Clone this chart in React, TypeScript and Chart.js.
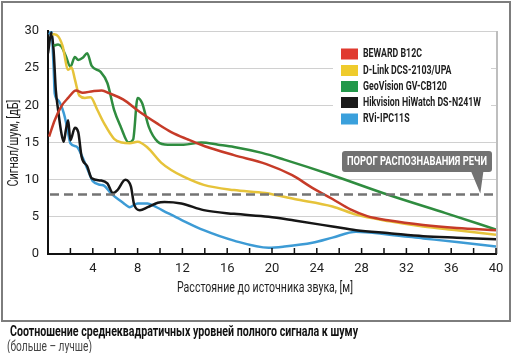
import React, { useEffect, useRef } from "react";
import { Chart, registerables } from "chart.js";
Chart.register(...registerables);

const FONT = "Roboto, 'Liberation Sans', 'DejaVu Sans', sans-serif";

// ---- data ----
const seriesNames = [
  "BEWARD B12C",
  "D-Link DCS-2103/UPA",
  "GeoVision GV-CB120",
  "Hikvision HiWatch DS-N241W",
  "RVi-IPC11S",
];
const lineColors = ["#c63b28", "#e6c33a", "#2f8c3f", "#161616", "#3d9bd5"];
const swatchColors = ["#e03a2f", "#efcb2c", "#22984a", "#1a1a1a", "#3aa0dc"];

const bewardX = [0.1, 0.6, 1.2, 1.8, 2.5, 3.1, 4.0, 4.8, 5.5, 6.7, 8.2, 9.7, 11.0, 12.5, 14.0, 16.6, 19.5, 21.8, 23.6, 25.4, 27.0, 28.5, 30.5, 33.5, 36.5, 40];
const bewardY = [15.8, 18.0, 19.9, 21.0, 22.0, 21.7, 21.9, 22.0, 21.6, 20.8, 19.1, 17.6, 16.4, 15.4, 14.5, 13.3, 12.1, 10.6, 8.9, 7.4, 6.0, 5.1, 4.5, 3.9, 3.5, 3.2];

const dlinkX = [0.4, 0.9, 1.3, 1.8, 2.1, 2.4, 2.8, 3.3, 3.8, 4.4, 5.0, 5.9, 6.6, 7.3, 8.0, 8.9, 10.1, 11.0, 12.1, 13.9, 16.6, 19.4, 22.0, 25.4, 27.5, 30.5, 33.5, 36.5, 40];
const dlinkY = [29.6, 29.3, 28.0, 24.8, 25.1, 23.5, 21.3, 21.0, 21.1, 19.4, 17.6, 15.5, 15.0, 14.9, 15.1, 14.3, 12.3, 11.3, 10.4, 9.3, 8.6, 8.2, 7.4, 6.4, 5.3, 4.4, 3.7, 3.2, 2.6];

const geoX = [0.5, 0.9, 1.2, 1.6, 2.0, 2.4, 2.7, 3.1, 3.5, 3.9, 4.7, 5.3, 5.9, 6.5, 7.2, 7.6, 8.0, 8.4, 9.0, 9.8, 10.7, 12.1, 13.7, 15.2, 16.6, 19.1, 21.1, 25.0, 30.5, 35.5, 40];
const geoY = [28.0, 28.2, 27.9, 26.6, 25.2, 26.5, 26.1, 26.4, 27.0, 25.3, 24.5, 23.0, 19.4, 17.1, 15.0, 15.4, 21.0, 20.3, 17.1, 15.1, 14.7, 14.7, 15.0, 14.7, 14.4, 13.6, 12.7, 10.8, 7.9, 5.5, 3.3];

const hikX = [0.0, 0.3, 0.5, 0.7, 0.9, 1.2, 1.4, 1.6, 1.8, 2.0, 2.4, 2.7, 3.0, 3.5, 3.9, 4.7, 5.3, 5.8, 6.2, 6.9, 7.4, 7.7, 8.2, 8.9, 9.8, 10.4, 11.9, 13.9, 16.6, 19.7, 22.0, 25.4, 27.5, 30.5, 33.5, 36.5, 40];
const hikY = [27.0, 29.8, 27.4, 22.0, 19.4, 16.2, 15.1, 16.7, 18.0, 15.3, 17.0, 16.4, 13.1, 11.8, 10.2, 9.9, 9.5, 8.2, 8.6, 10.0, 9.1, 6.6, 5.9, 6.3, 6.9, 7.0, 6.8, 5.9, 5.4, 5.0, 4.5, 3.7, 3.2, 2.8, 2.4, 2.2, 2.0];

const rviX = [0.1, 0.3, 0.5, 0.6, 0.9, 1.4, 1.7, 2.0, 2.6, 2.9, 3.5, 3.8, 4.0, 4.7, 5.0, 5.6, 6.7, 7.3, 8.0, 8.9, 9.4, 10.7, 11.9, 13.9, 16.6, 19.7, 21.1, 23.6, 25.4, 27.5, 30.5, 33.5, 36.5, 40];
const rviY = [29.5, 30.0, 25.2, 21.6, 20.7, 19.0, 17.1, 14.9, 14.4, 13.6, 11.5, 10.4, 9.8, 9.3, 9.2, 8.2, 6.9, 6.3, 6.8, 6.8, 6.5, 5.5, 4.6, 3.2, 1.8, 0.85, 1.0, 1.5, 2.2, 3.0, 2.6, 2.1, 1.6, 1.0];

const seriesX = [bewardX, dlinkX, geoX, hikX, rviX];
const seriesY = [bewardY, dlinkY, geoY, hikY, rviY];

const xLabelValues = [4, 8, 12, 16, 20, 24, 28, 32, 36, 40];
const thresholdValue = 8;
const thresholdText = "ПОРОГ РАСПОЗНАВАНИЯ РЕЧИ";
const calloutTipX = 38.6;
const yTitle = "Сигнал/шум, [дБ]";
const xTitle = "Расстояние до источника звука, [м]";
const captionMain = "Соотношение среднеквадратичных уровней полного сигнала к шуму";
const captionSub = "(больше – лучше)";

function fitText(
  ctx: CanvasRenderingContext2D,
  text: string,
  x: number,
  y: number,
  targetW: number,
  font: string,
  color: string,
  align: CanvasTextAlign = "center",
  rot = 0
) {
  ctx.save();
  ctx.font = font;
  ctx.fillStyle = color;
  ctx.textAlign = align;
  ctx.textBaseline = "middle";
  const w = ctx.measureText(text).width;
  ctx.translate(x, y);
  ctx.rotate(rot);
  ctx.scale(targetW / w, 1);
  ctx.fillText(text, 0, 0);
  ctx.restore();
}

const decorPlugin = {
  id: "decor",
  beforeDatasetsDraw(chart: any) {
    const { ctx, chartArea } = chart;
    ctx.save();
    ctx.strokeStyle = "#a8a8a8";
    ctx.lineWidth = 1.5;
    ctx.beginPath();
    ctx.moveTo(chartArea.right + 1, chartArea.top);
    ctx.lineTo(chartArea.right + 1, chartArea.bottom);
    ctx.stroke();
    ctx.restore();
  },
  afterDatasetsDraw(chart: any) {
    const { ctx, chartArea, scales } = chart;
    const yy = scales.y.getPixelForValue(thresholdValue);
    ctx.save();
    ctx.strokeStyle = "#747474";
    ctx.lineWidth = 2.5;
    ctx.setLineDash([9, 5]);
    ctx.beginPath();
    ctx.moveTo(chartArea.left + 2, yy);
    ctx.lineTo(chartArea.right, yy);
    ctx.stroke();
    ctx.restore();
  },
  afterDraw(chart: any) {
    const { ctx, chartArea, scales } = chart;
    ctx.save();
    ctx.strokeStyle = "#111";
    ctx.lineWidth = 1.5;
    scales.x.ticks.forEach((t: any) => {
      if (t.value <= 0) return;
      const px = scales.x.getPixelForValue(t.value);
      ctx.beginPath();
      ctx.moveTo(px, chartArea.bottom);
      ctx.lineTo(px, chartArea.bottom - 6);
      ctx.stroke();
    });
    ctx.restore();

    fitText(ctx, yTitle, 14, 143, 87, `14px ${FONT}`, "#1e1e1e", "center", -Math.PI / 2);
    fitText(ctx, xTitle, 265, 288, 176, `14px ${FONT}`, "#1e1e1e", "center");

    ctx.save();
    ctx.fillStyle = "#ffffff";
    ctx.fillRect(333, 38, 158, 90);
    ctx.restore();
    const rowY = [54, 70.5, 86.5, 102.5, 119];
    const bold = `bold 13px ${FONT}`;
    ctx.save();
    ctx.font = bold;
    const refW = ctx.measureText(seriesNames[3]).width;
    ctx.restore();
    const sx = 118 / refW;
    seriesNames.forEach((name, i) => {
      ctx.save();
      ctx.fillStyle = swatchColors[i];
      ctx.fillRect(341, rowY[i] - 5.5, 17, 11);
      ctx.font = bold;
      const w = ctx.measureText(name).width * sx;
      ctx.restore();
      fitText(ctx, name, 363, rowY[i], w, bold, "#1e1e1e", "left");
    });

    const tipX = scales.x.getPixelForValue(calloutTipX);
    const tipY = scales.y.getPixelForValue(thresholdValue);
    ctx.save();
    ctx.fillStyle = "#727272";
    ctx.beginPath();
    const L = 342, T = 151, R = 492, B = 172, r = 3;
    ctx.moveTo(L + r, T);
    ctx.lineTo(R - r, T);
    ctx.quadraticCurveTo(R, T, R, T + r);
    ctx.lineTo(R, B - r);
    ctx.quadraticCurveTo(R, B, R - r, B);
    ctx.lineTo(tipX + 3, B);
    ctx.lineTo(tipX, tipY - 1);
    ctx.lineTo(tipX - 9, B);
    ctx.lineTo(L + r, B);
    ctx.quadraticCurveTo(L, B, L, B - r);
    ctx.lineTo(L, T + r);
    ctx.quadraticCurveTo(L, T, L + r, T);
    ctx.closePath();
    ctx.fill();
    ctx.restore();
    fitText(ctx, thresholdText, 417, 162, 140, bold, "#ffffff", "center");
  },
};

export default function App() {
  const canvasRef = useRef<HTMLCanvasElement>(null);
  const cap1 = useRef<HTMLSpanElement>(null);
  const cap2 = useRef<HTMLSpanElement>(null);

  useEffect(() => {
    const fit = (el: HTMLSpanElement | null, target: number) => {
      if (!el) return;
      el.style.transform = "none";
      const w = el.getBoundingClientRect().width;
      if (w > 0) el.style.transform = `scaleX(${target / w})`;
    };
    fit(cap1.current, 348);
    fit(cap2.current, 85);

    const chart = new Chart(canvasRef.current as HTMLCanvasElement, {
      type: "line",
      data: {
        datasets: seriesNames.map((name, i) => ({
          label: name,
          data: seriesX[i].map((x, j) => ({ x, y: seriesY[i][j] })),
          borderColor: lineColors[i],
          backgroundColor: lineColors[i],
          borderWidth: 2.5,
          pointRadius: 0,
          cubicInterpolationMode: "monotone" as const,
          fill: false,
        })),
      },
      options: {
        responsive: false,
        maintainAspectRatio: false,
        animation: false,
        layout: { padding: { top: 31, right: 16, left: 0, bottom: 0 } },
        plugins: { legend: { display: false }, tooltip: { enabled: false } },
        scales: {
          x: {
            type: "linear",
            min: 0,
            max: 40,
            afterFit: (s: any) => {
              s.height = 68;
            },
            grid: { display: false, drawTicks: false },
            border: { display: true, color: "#111", width: 2 },
            ticks: {
              stepSize: 2,
              autoSkip: false,
              maxRotation: 0,
              padding: 7,
              color: "#1e1e1e",
              font: { family: FONT, size: 13 },
              callback: (v: any) => (xLabelValues.includes(Number(v)) ? String(v) : ""),
            },
          },
          y: {
            min: 0,
            max: 30,
            afterFit: (s: any) => {
              s.width = 48;
            },
            grid: { color: "#d0d0d0", lineWidth: 1, drawTicks: false },
            border: { display: true, color: "#111", width: 2 },
            ticks: {
              stepSize: 5,
              padding: 9,
              color: "#1e1e1e",
              font: { family: FONT, size: 13 },
            },
          },
        },
      },
      plugins: [decorPlugin],
    } as any);
    return () => chart.destroy();
  }, []);

  return (
    <div style={{ position: "fixed", left: 0, top: 0, width: 512, height: 353, background: "#fff", overflow: "hidden" }}>
      <canvas ref={canvasRef} width={512} height={322} style={{ position: "absolute", left: 0, top: 0, width: 512, height: 322 }} />
      <div
        style={{
          position: "absolute",
          left: 1,
          top: 1,
          width: 510,
          height: 321,
          boxSizing: "border-box",
          border: "2px solid #7d7d7d",
          pointerEvents: "none",
        }}
      />
      <span
        ref={cap1}
        style={{
          position: "absolute",
          left: 10,
          top: 323,
          fontFamily: FONT,
          fontWeight: 700,
          fontSize: 14,
          lineHeight: "16px",
          color: "#111",
          whiteSpace: "nowrap",
          transformOrigin: "0 0",
        }}
      >
        {captionMain}
      </span>
      <span
        ref={cap2}
        style={{
          position: "absolute",
          left: 7,
          top: 338,
          fontFamily: FONT,
          fontSize: 14,
          lineHeight: "16px",
          color: "#444",
          whiteSpace: "nowrap",
          transformOrigin: "0 0",
        }}
      >
        {captionSub}
      </span>
    </div>
  );
}
